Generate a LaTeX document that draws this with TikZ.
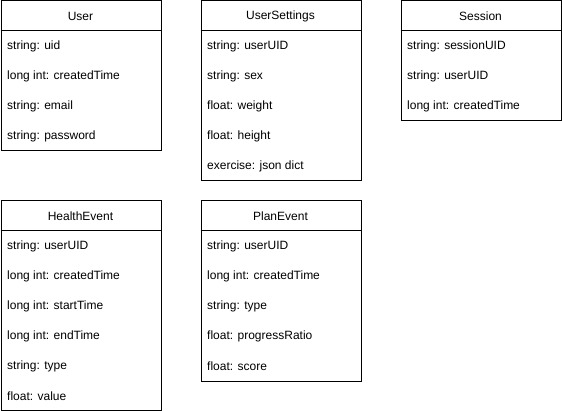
\documentclass[tikz,border=0pt]{standalone}
\usepackage{fontspec}
\setmainfont{Liberation Sans}
\begin{document}
\begin{tikzpicture}[x=1pt,y=-1pt,
  classbox/.style={draw=black,line width=1pt,fill=white,minimum width=160pt,inner sep=0pt,anchor=north west},
  headtext/.style={font=\fontsize{12}{14}\selectfont,anchor=center,inner sep=0pt},
  fieldtext/.style={font=\fontsize{12}{14}\selectfont,anchor=west,inner sep=0pt}]
\useasboundingbox (0,0) rectangle (562,411);
% User
\node[classbox,minimum height=150pt] (user) at (0.5,0.5) {};
\draw[line width=1pt] (user.north west) ++(0,30) -- ++(160,0);
\node[headtext] (userh) at (80.5,16.5) {User};
\node[fieldtext] (user1) at (7,46.5) {string: uid};
\node[fieldtext] (user2) at (7,76.5) {long int: createdTime};
\node[fieldtext] (user3) at (7,106.5) {string: email};
\node[fieldtext] (user4) at (7,136.5) {string: password};
% UserSettings
\node[classbox,minimum height=180pt] (us) at (200.5,0.5) {};
\draw[line width=1pt] (us.north west) ++(0,30) -- ++(160,0);
\node[headtext] (ush) at (280.5,16.5) {UserSettings};
\node[fieldtext] (us1) at (207,46.5) {string: userUID};
\node[fieldtext] (us2) at (207,76.5) {string: sex};
\node[fieldtext] (us3) at (207,106.5) {float: weight};
\node[fieldtext] (us4) at (207,136.5) {float: height};
\node[fieldtext] (us5) at (207,166.5) {exercise: json dict};
% Session
\node[classbox,minimum height=120pt] (ses) at (400.5,0.5) {};
\draw[line width=1pt] (ses.north west) ++(0,30) -- ++(160,0);
\node[headtext] (sesh) at (480.5,16.5) {Session};
\node[fieldtext] (ses1) at (407,46.5) {string: sessionUID};
\node[fieldtext] (ses2) at (407,76.5) {string: userUID};
\node[fieldtext] (ses3) at (407,106.5) {long int: createdTime};
% HealthEvent
\node[classbox,minimum height=209pt] (he) at (0.5,200.5) {};
\draw[line width=1pt] (he.north west) ++(0,30) -- ++(160,0);
\node[headtext] (heh) at (80.5,216.5) {HealthEvent};
\node[fieldtext] (he1) at (7,246.5) {string: userUID};
\node[fieldtext] (he2) at (7,276.5) {long int: createdTime};
\node[fieldtext] (he3) at (7,306.5) {long int: startTime};
\node[fieldtext] (he4) at (7,336.5) {long int: endTime};
\node[fieldtext] (he5) at (7,366.5) {string: type};
\node[fieldtext] (he6) at (7,396.5) {float: value};
% PlanEvent
\node[classbox,minimum height=180pt] (pe) at (200.5,200.5) {};
\draw[line width=1pt] (pe.north west) ++(0,30) -- ++(160,0);
\node[headtext] (peh) at (280.5,216.5) {PlanEvent};
\node[fieldtext] (pe1) at (207,246.5) {string: userUID};
\node[fieldtext] (pe2) at (207,276.5) {long int: createdTime};
\node[fieldtext] (pe3) at (207,306.5) {string: type};
\node[fieldtext] (pe4) at (207,336.5) {float: progressRatio};
\node[fieldtext] (pe5) at (207,366.5) {float: score};
\end{tikzpicture}
\end{document}
